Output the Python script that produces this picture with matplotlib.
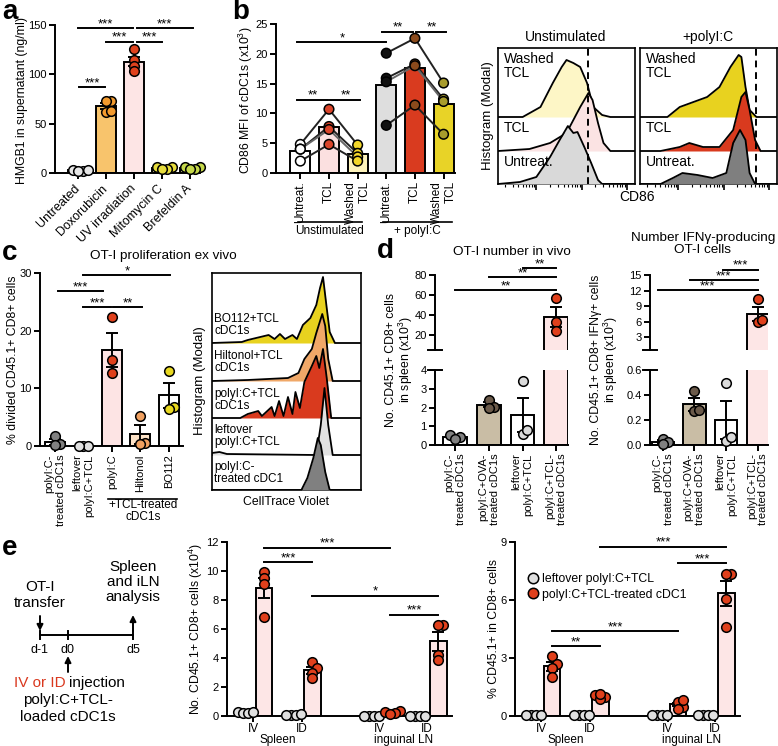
import numpy as np
import matplotlib.pyplot as plt
from matplotlib.lines import Line2D

plt.rcParams['font.family'] = ['Liberation Sans', 'DejaVu Sans']
plt.rcParams['mathtext.fontset'] = 'custom'
plt.rcParams['mathtext.rm'] = 'Liberation Sans'
plt.rcParams['mathtext.default'] = 'rm'
plt.rcParams['font.size'] = 8
plt.rcParams['axes.linewidth'] = 1.4

W, H = 778, 746

# ---------- data ----------
# a: HMGB1 release
a_labels = ['Untreated', 'Doxorubicin', 'UV irradiation', 'Mitomycin C', 'Brefeldin A']
a_vals = [[2.5, 3.0, 2.0, 3.0], [73, 73, 62, 63], [126, 115, 108, 103], [6, 6, 4, 4], [6, 6, 4, 4]]
a_bar = ['white', '#f8c46c', '#fde5e5', '#f6f0a0', '#eef2a0']
a_dot = ['#e6e6e6', '#f29a2e', '#e0421d', '#e6dc3c', '#c5d84a']

# b: CD86 MFI, one row per donor (Untreat., TCL, Washed TCL)
b_labels = ['Untreat.', 'TCL', 'Washed\nTCL'] * 2
b_unstim = [[4.8, 10.7, 4.7], [4.0, 7.8, 3.3], [4.0, 7.3, 2.7], [2.0, 4.8, 2.0]]
b_polyic = [[20.1, 22.6, 15.1], [15.9, 18.3, 12.4], [15.3, 18.0, 12.0], [8.0, 11.4, 6.5]]
b_bar = ['white', '#fbe0e0', '#fdf3bb', '#dedede', '#d93b1f', '#e8d327']
b_dot = ['white', '#d9442a', '#f2d62a', '#111111', '#8a4a1c', '#a89c2c']
b_line = ['#222222', '#222222', '#666666', '#222222']

# b histograms: x (% of CD86 axis), height above row baseline
bh_unstim = [
    ([18, 31, 40, 46.5, 50, 55, 60, 65, 69.5, 76, 82], [0, 10, 34, 50, 57, 54, 50, 34, 10, 2, 0], 67, '#fdf6c6'),
    ([23, 38, 50, 60, 66, 69, 73, 77, 82], [2, 8, 18, 44, 58, 51, 28, 8, 0], 33, '#fbe3e3'),
    ([16, 28, 38, 45, 51, 55, 58, 63, 68, 73, 76], [2, 7, 27, 44, 58, 51, 52, 37, 21, 4, 0], 0, '#d9d9d9'),
]
bh_polyic = [
    ([20, 29, 39, 49, 58, 66, 72, 74, 77, 80, 85], [0, 10, 15, 20, 30, 50, 62, 60, 30, 7, 0], 67, '#e8d21f'),
    ([15, 29, 36, 46, 58, 68, 74, 77, 80, 84, 88], [0, 4, 8, 4, 4, 21, 54, 59, 41, 11, 0], 33, '#d93a1e'),
    ([15, 24, 31, 42, 53, 63, 68, 73, 77, 80, 84], [0, 6, 11, 9, 6, 11, 41, 54, 44, 11, 0], 0, '#7f7f7f'),
]
b_row_labels = ['Washed\nTCL', 'TCL', 'Untreat.']

# c: OT-I proliferation
c_labels = ['polyI:C-\ntreated cDC1s', 'leftover\npolyI:C+TCL', 'polyI:C', 'Hiltonol', 'BO112']
c_vals = [[1.8, 0.3, 0.2], [0, 0, 0], [22.3, 14.9, 12.6], [5.2, 0.5, 0.3], [13.0, 6.8, 6.5]]
c_bar = ['white', 'white', '#fde4e4', '#fde3c8', 'white']
c_dot = ['#808080', '#e0e0e0', '#e0401c', '#f0a060', '#e8d820']

ch_curves = [
    ([20, 24, 38, 42, 45.6, 49, 54, 57, 61, 66, 70, 72.5, 74.5, 77, 79, 82.5],
     [1, 3, 8, 4, 9, 4, 8, 4, 18, 25, 38, 55, 66, 35, 11, 0], 147, '#e8d21f'),
    ([24, 51, 58, 62, 67, 70, 74, 76, 78, 81], [1, 3, 8, 22, 32, 48, 67, 55, 22, 0], 109, '#f0a868'),
    ([19, 24, 31, 33.5, 40, 42, 45, 48, 51, 54, 56, 59, 62, 67, 70, 72, 74.5, 77, 80],
     [0, 4, 7, 2, 11, 2, 17, 2, 21, 4, 26, 10, 36, 52, 62, 50, 69, 40, 0], 72, '#d93a1e'),
    ([0, 5, 10, 70, 73, 75.5, 78, 81], [2, 3, 1, 0, 30, 67, 30, 0], 35, '#e2e2e2'),
    ([60, 64, 68, 71, 73, 76, 79], [0, 12, 32, 52, 45, 18, 0], 0, '#808080'),
]
ch_labels = ['BO112+TCL\ncDC1s', 'Hiltonol+TCL\ncDC1s', 'polyI:C+TCL\ncDC1s',
             'leftover\npolyI:C+TCL', 'polyI:C-\ntreated cDC1']

# d: OT-I in vivo
d_labels = ['polyI:C-\ntreated cDC1s', 'polyI:C+OVA-\ntreated cDC1s',
            'leftover\npolyI:C+TCL', 'polyI:C+TCL-\ntreated cDC1s']
d_num = [[0.55, 0.4, 0.3], [2.4, 2.05, 2.0], [3.4, 0.6, 0.8], [56.7, 33.3, 24.0]]
d_ifng = [[0.05, 0.02, 0.01], [0.43, 0.27, 0.28], [0.50, 0.03, 0.06], [10.3, 5.9, 6.3]]
d_bar = ['white', '#c9bda5', 'white', '#fde6e6']
d_dot = ['#808080', '#6b5a4a', '#dadada', '#e0401c']

# e: IV vs ID injection (leftover, treated) x (spleen IV, spleen ID, LN IV, LN ID)
e_num_left = [[0.25, 0.2, 0.2, 0.25], [0.1, 0.1, 0.15, 0.1], [0.02] * 4, [0.02] * 4]
e_num_trt = [[9.9, 9.5, 9.1, 6.8], [3.7, 3.3, 3.0, 2.6], [0.35, 0.2, 0.3, 0.15], [6.3, 6.25, 4.2, 3.85]]
e_pct_left = [[0.05] * 4, [0.03] * 4, [0.03] * 4, [0.03] * 4]
e_pct_trt = [[3.1, 2.7, 2.5, 2.0], [1.1, 1.0, 0.9, 1.15], [0.72, 0.47, 0.81, 0.38], [7.35, 7.35, 6.05, 4.6]]
e_routes = ['IV', 'ID', 'IV', 'ID']
e_sites = ['Spleen', 'inguinal LN']
e_legend = ['leftover polyI:C+TCL', 'polyI:C+TCL-treated cDC1']

# ---------- helpers ----------
fig = plt.figure(figsize=(W / 100, H / 100), dpi=100)


def box(l, t, r, b):
    return fig.add_axes([l / W, 1 - b / H, (r - l) / W, (b - t) / H])


def style(ax):
    ax.spines['top'].set_visible(False)
    ax.spines['right'].set_visible(False)
    ax.tick_params(width=1.4, length=4, labelsize=8, pad=2)


def swarm(ax, x, vals, step=4.8, gap=4.8):
    vals = np.asarray(vals, float)
    pts = ax.transData.transform(np.column_stack([np.full(len(vals), float(x)), vals]))
    placed, out = [], np.zeros(len(vals))
    for i in np.argsort(vals):
        px0, py0 = pts[i]
        for k in [0, 1, -1, 2, -2, 3, -3, 4, -4]:
            cx = px0 + k * step
            if all(np.hypot(cx - a, py0 - b) >= gap - 0.01 for a, b in placed):
                break
        placed.append((cx, py0))
        out[i] = ax.transData.inverted().transform((cx, py0))[0]
    return out


def dots(ax, x, vals, dc, s=48):
    ax.scatter(swarm(ax, x, vals), vals, s=s, color=dc, edgecolors='k',
               linewidths=1.1, zorder=4, clip_on=False)


def dotbar(ax, x, vals, fc, dc, width=0.7):
    vals = np.asarray(vals, float)
    m = vals.mean()
    se = vals.std(ddof=1) / np.sqrt(len(vals))
    ax.bar(x, m, width, color=fc, edgecolor='k', linewidth=1.4, zorder=2)
    ax.errorbar(x, m, yerr=se, fmt='none', ecolor='k', elinewidth=1.4,
                capsize=4, capthick=1.4, zorder=3)
    dots(ax, x, vals, dc)


def split_bar(lo, hi, x, vals, fc, dc, width=0.7):
    vals = np.asarray(vals, float)
    m = vals.mean()
    se = vals.std(ddof=1) / np.sqrt(len(vals))
    top = lo.get_ylim()[1]
    for a in (lo, hi):
        a.bar(x, m, width, color=fc, edgecolor='k', linewidth=1.4, zorder=2)
    host = hi if m > top else lo
    host.errorbar(x, m, yerr=se, fmt='none', ecolor='k', elinewidth=1.4,
                  capsize=4, capthick=1.4, zorder=3)
    low, high = vals[vals <= top], vals[vals > top]
    if len(low):
        dots(lo, x, low, dc)
    if len(high):
        dots(hi, x, high, dc)


def sig(ax, x1, x2, y, txt):
    ax.plot([x1, x2], [y, y], color='k', lw=1.4, clip_on=False, zorder=5)
    ax.annotate(txt, (0.5 * (x1 + x2), y), xytext=(0, -1.5), textcoords='offset points',
                ha='center', va='bottom', fontsize=9.5, annotation_clip=False)


def hist_panel(ax, curves, height):
    ax.set_xlim(0, 100)
    ax.set_ylim(0, height)
    for z, (xs, dh, base, col) in enumerate(curves):
        xx = np.r_[0, xs, 100]
        yy = base + np.r_[0, dh, 0]
        ax.fill_between(xx, base, yy, color=col, lw=0, zorder=2 + z)
        ax.plot(xx, yy, color='k', lw=1.3, zorder=2.5 + z)
    ax.set_yticks([])
    for s in ax.spines.values():
        s.set_linewidth(1.2)


def multi_right(ax):
    for t in ax.get_xticklabels():
        t.set_multialignment('right')


# ---------- a ----------
ax = box(55, 25, 200, 173)
style(ax)
ax.set_xlim(-0.82, 4.36)
ax.set_ylim(0, 150)
for i in range(5):
    dotbar(ax, i, a_vals[i], a_bar[i], a_dot[i])
ax.set_yticks([0, 50, 100, 150])
ax.set_xticks(range(5))
ax.set_xticklabels(a_labels, rotation=45, ha='right', va='center', rotation_mode='anchor', fontsize=9)
ax.tick_params(axis='x', pad=6)
sig(ax, 0.05, 0.95, 87, '***')
sig(ax, 1.0, 1.95, 133, '***')
sig(ax, 2.1, 3.0, 133, '***')
sig(ax, 0.0, 1.95, 147, '***')
sig(ax, 2.1, 4.1, 147, '***')

# ---------- b bars ----------
ax = box(276, 24, 455, 173)
style(ax)
ax.set_xlim(-0.85, 5.4)
ax.set_ylim(0, 25)
means = list(np.mean(b_unstim, axis=0)) + list(np.mean(b_polyic, axis=0))
ax.bar(range(6), means, 0.7, color=b_bar, edgecolor='k', linewidth=1.4, zorder=2)
for off, donors in [(0, b_unstim), (3, b_polyic)]:
    for j, d in enumerate(donors):
        xs = [off, off + 1, off + 2]
        ax.plot(xs, d, color=b_line[j], lw=1.4, zorder=3)
        ax.scatter(xs, d, s=48, color=b_dot[off:off + 3], edgecolors='k', linewidths=1.1, zorder=4)
ax.set_yticks([0, 5, 10, 15, 20, 25])
ax.set_xticks(range(6))
ax.set_xticklabels(b_labels, rotation=90, fontsize=8.5)
multi_right(ax)
sig(ax, -0.1, 0.95, 12.3, '**')
sig(ax, 1.05, 2.1, 12.3, '**')
sig(ax, -0.1, 3.0, 22, '*')
sig(ax, 2.85, 3.95, 23.7, '**')
sig(ax, 4.05, 5.1, 23.7, '**')

# ---------- b histograms ----------
for (l, r), curves, dash in [((498, 635), bh_unstim, 66), ((640, 777), bh_polyic, 85)]:
    hx = box(l, 48, r, 184)
    hist_panel(hx, curves, 136)
    hx.axvline(dash, color='k', lw=1.4, ls=(0, (3.5, 2.5)), zorder=10)
    maj = [x for x in [-5, 28, 61, 94] if 0 <= x <= 100]
    mnr = [d + 33 * np.log10(k) for d in [-5, 28, 61, 94] for k in range(2, 10)]
    hx.set_xticks(maj)
    hx.set_xticks([x for x in mnr if 0 < x < 100], minor=True)
    hx.tick_params(axis='x', which='major', length=4, width=1.2, labelbottom=False)
    hx.tick_params(axis='x', which='minor', length=2, width=0.8)
    for txt, h in zip(b_row_labels, [118, 56, 22]):
        hx.text(4, h, txt, fontsize=10, va='center', ha='left', zorder=12, linespacing=1.05)

# ---------- c bars ----------
ax = box(40, 273, 183, 446)
style(ax)
ax.set_xlim(-0.53, 4.5)
ax.set_ylim(0, 30)
for i in range(5):
    dotbar(ax, i, c_vals[i], c_bar[i], c_dot[i])
ax.set_yticks([0, 10, 20, 30])
ax.set_xticks(range(5))
ax.set_xticklabels(c_labels, rotation=90)
multi_right(ax)
sig(ax, 0.1, 1.7, 26.9, '***')
sig(ax, 1.0, 1.95, 24.1, '***')
sig(ax, 2.05, 3.05, 24.1, '**')
sig(ax, 1.0, 4.05, 29.6, '*')

# ---------- c histogram ----------
hx = box(212, 273, 361, 490)
hist_panel(hx, ch_curves, 217)
hx.set_xticks([])
for txt, h in zip(ch_labels, [165, 128, 90, 54, 17]):
    hx.text(1.5, h, txt, fontsize=8.5, va='center', ha='left', zorder=12, linespacing=1.05)

# ---------- d (broken axes) ----------
def broken(l, r, lo_lim, hi_lim, lo_ticks, hi_ticks, xlim):
    lo = box(l, 370, r, 445)
    hi = box(l, 275, r, 350)
    for a in (lo, hi):
        style(a)
        a.set_xlim(*xlim)
    lo.set_ylim(*lo_lim)
    hi.set_ylim(*hi_lim)
    lo.set_yticks(lo_ticks)
    hi.set_yticks(hi_ticks)
    hi.spines['bottom'].set_visible(False)
    hi.set_xticks([])
    return lo, hi


lo, hi = broken(435, 568, (0, 4), (5, 80), [0, 1, 2, 3, 4], [20, 40, 60, 80], (-0.6, 3.35))
for i in range(4):
    split_bar(lo, hi, i, d_num[i], d_bar[i], d_dot[i])
lo.set_xticks(range(4))
lo.set_xticklabels(d_labels, rotation=90)
multi_right(lo)
sig(hi, 0.0, 3.0, 65, '**')
sig(hi, 1.0, 3.0, 78, '**')
sig(hi, 2.0, 3.0, 87, '**')

lo2, hi2 = broken(650, 768, (0, 0.6), (0.5, 15), [0, 0.2, 0.4, 0.6], [3, 6, 9, 12, 15], (-0.41, 3.33))
lo2.set_yticklabels(['0.0', '0.2', '0.4', '0.6'])
for i in range(4):
    split_bar(lo2, hi2, i, d_ifng[i], d_bar[i], d_dot[i])
lo2.set_xticks(range(4))
lo2.set_xticklabels(d_labels, rotation=90)
multi_right(lo2)
sig(hi2, -0.15, 3.0, 12.1, '***')
sig(hi2, 0.85, 3.0, 14.0, '***')
sig(hi2, 1.9, 3.0, 16.0, '***')

# ---------- e ----------
e_pos = [0, 1, 2.3, 3.3, 6, 7, 8.2, 9.3]


def e_panel(l, r, left, trt, ylim, yticks):
    ax = box(l, 542, r, 716)
    style(ax)
    ax.set_xlim(-0.76, 9.95)
    ax.set_ylim(0, ylim)
    ax.set_yticks(yticks)
    for g in range(4):
        dotbar(ax, e_pos[2 * g], left[g], 'white', '#e0e0e0', width=0.8)
        dotbar(ax, e_pos[2 * g + 1], trt[g], '#fde6e6', '#e0401c', width=0.8)
    centers = [0.5 * (e_pos[2 * g] + e_pos[2 * g + 1]) for g in range(4)]
    ax.set_xticks(centers)
    ax.set_xticklabels(e_routes, fontsize=8.5)
    ax.tick_params(axis='x', pad=1)
    for k, site in enumerate(e_sites):
        ax.text(0.5 * (centers[2 * k] + centers[2 * k + 1]), -0.105, site,
                transform=ax.get_xaxis_transform(), ha='center', va='top', fontsize=8.5)
    return ax


ax = e_panel(227, 452, e_num_left, e_num_trt, 12, [0, 2, 4, 6, 8, 10, 12])
sig(ax, 1, 3.3, 10.6, '***')
sig(ax, 1, 7, 11.6, '***')
sig(ax, 3.3, 9.3, 8.3, '*')
sig(ax, 7, 9.3, 7.0, '***')

ax = e_panel(515, 740, e_pct_left, e_pct_trt, 9, [0, 3, 6, 9])
sig(ax, 1, 3.3, 3.6, '**')
sig(ax, 1, 7, 4.4, '***')
sig(ax, 3.3, 9.3, 8.75, '***')
sig(ax, 7, 9.3, 7.9, '***')
handles = [Line2D([], [], marker='o', ls='', mfc=c, mec='k', mew=1.1, ms=7.5)
           for c in ['#e0e0e0', '#e0401c']]
fig.legend(handles, e_legend, loc='upper left', bbox_to_anchor=(522 / W, 1 - 568 / H),
           frameon=False, handletextpad=0.2, labelspacing=0.3, borderaxespad=0,
           handlelength=1.0, fontsize=8.8)

# ---------- overlay text / schematic ----------
ov = fig.add_axes([0, 0, 1, 1])
ov.set_xlim(0, W)
ov.set_ylim(H, 0)
ov.axis('off')


def T(x, y, s, **kw):
    kw.setdefault('ha', 'center')
    kw.setdefault('va', 'center')
    kw.setdefault('fontsize', 8.8)
    ov.text(x, y, s, **kw)


for letter, x, y in [('a', 2, 19), ('b', 232, 19), ('c', 2, 260), ('d', 377, 258), ('e', 2, 555)]:
    T(x, y, letter, ha='left', va='baseline', fontsize=20, fontweight='bold')

# axis labels
T(22, 100, 'HMGB1 in supernatant (ng/ml)', rotation=90)
T(246, 100, 'CD86 MFI of cDC1s (x10$^3$)', rotation=90)
T(13, 360, '% divided CD45.1+ CD8+ cells', rotation=90)
T(400, 360, 'No. CD45.1+ CD8+ cells\nin spleen (x10$^3$)', rotation=90, linespacing=1.0)
T(605, 360, 'No. CD45.1+ CD8+ IFNγ+ cells\nin spleen (x10$^3$)', rotation=90, linespacing=1.0)
T(196, 629, 'No. CD45.1+ CD8+ cells (x10$^4$)', rotation=90)
T(494, 629, '% CD45.1+ in CD8+ cells', rotation=90)
T(488, 116, 'Histogram (Modal)', rotation=90, fontsize=9.5)
T(200, 381, 'Histogram (Modal)', rotation=90, fontsize=9.5)

# titles
T(566, 37, 'Unstimulated', fontsize=10)
T(708, 37, '+polyI:C', fontsize=10)
T(637, 197, 'CD86', fontsize=10)
T(286, 502, 'CellTrace Violet', fontsize=8.8)
T(163, 256, 'OT-I proliferation ex vivo', fontsize=9.7)
T(512, 252, 'OT-I number in vivo', fontsize=9.7)
T(703, 244, 'Number IFNγ-producing\nOT-I cells', fontsize=9.7, linespacing=1.05)

# group brackets
ov.plot([298, 362], [222, 222], color='k', lw=1.2)
T(330, 231, 'Unstimulated', fontsize=8.5)
ov.plot([383, 452], [222, 222], color='k', lw=1.2)
T(417, 231, '+ polyI:C', fontsize=8.5)
ov.plot([108, 177], [499, 499], color='k', lw=1.2)
T(143, 511, '+TCL-treated\ncDC1s', fontsize=8.5, linespacing=1.05)

# break marks on split axes
for x0 in (435, 650):
    for y0 in (350, 370):
        ov.plot([x0 - 7, x0 + 7], [y0, y0], color='k', lw=1.4)

# e schematic
arrow = dict(arrowstyle='-|>', color='k', lw=1.4, mutation_scale=9, shrinkA=0, shrinkB=0)
ov.plot([40, 133], [635, 635], color='k', lw=1.4)
for x0 in (40, 68, 133):
    ov.plot([x0, x0], [631, 639], color='k', lw=1.4)
T(40, 650, 'd-1', fontsize=9)
T(68, 650, 'd0', fontsize=9)
T(133, 650, 'd5', fontsize=9)
T(40, 595, 'OT-I\ntransfer', fontsize=11, linespacing=1.1)
ov.annotate('', xy=(40, 631), xytext=(40, 616), arrowprops=arrow)
T(133, 582, 'Spleen\nand iLN\nanalysis', fontsize=11, linespacing=1.05)
ov.annotate('', xy=(133, 615), xytext=(133, 631), arrowprops=arrow)
ov.annotate('', xy=(68, 656), xytext=(68, 672), arrowprops=arrow)
T(66, 683, 'IV or ID', ha='right', color='#d9381e', fontsize=11)
T(69, 683, 'injection', ha='left', fontsize=11)
T(68, 700, 'polyI:C+TCL-', fontsize=11)
T(68, 717, 'loaded cDC1s', fontsize=11)

fig.savefig('out.png', dpi=100)
